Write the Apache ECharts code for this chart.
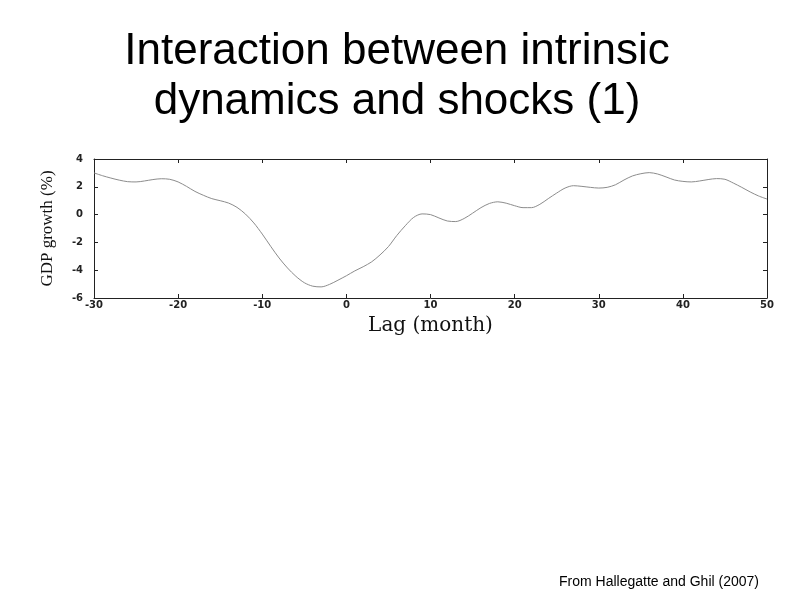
<!DOCTYPE html>
<html>
<head>
<meta charset="utf-8">
<script src="https://cdn.jsdelivr.net/npm/echarts@6/dist/echarts.min.js"></script>
<style>html,body{margin:0;padding:0;background:#fff;}#chart{width:794px;height:595px;}</style>
</head>
<body>
<div id="chart"></div>
<script>
var titleLines = ['Interaction between intrinsic', 'dynamics and shocks (1)'];
var sourceNote = 'From Hallegatte and Ghil (2007)';
var xName = 'Lag (month)';
var yName = 'GDP growth (%)';
var xTicks = [-30, -20, -10, 0, 10, 20, 30, 40, 50];
var yTicks = [-6, -4, -2, 0, 2, 4];
var lags = [];
for (var m = -30; m <= 50; m++) lags.push(m);
var gdp = [
  3.00, 2.80, 2.63, 2.48, 2.37, 2.35, 2.42, 2.52, 2.58, 2.54,
  2.35, 2.03, 1.67, 1.39, 1.15, 1.00, 0.83, 0.52, 0.04, -0.60,
  -1.40, -2.28, -3.12, -3.84, -4.44, -4.90, -5.15, -5.20, -5.02, -4.72,
  -4.40, -4.05, -3.75, -3.40, -2.90, -2.30, -1.50, -0.80, -0.20, 0.05,
  0.00, -0.24, -0.46, -0.50, -0.28, 0.10, 0.50, 0.80, 0.92, 0.82,
  0.64, 0.50, 0.50, 0.74, 1.15, 1.55, 1.91, 2.08, 2.03, 1.96,
  1.91, 1.96, 2.15, 2.49, 2.78, 2.94, 3.02, 2.92, 2.71, 2.49,
  2.39, 2.35, 2.42, 2.52, 2.59, 2.54, 2.27, 1.96, 1.63, 1.34,
  1.12
];

var chart = echarts.init(document.getElementById('chart'), null, {renderer: 'canvas'});
var frameColor = '#222';
var xMin = xTicks[0], xMax = xTicks[xTicks.length - 1];
var yMin = yTicks[0], yMax = yTicks[yTicks.length - 1];
var tickFont = {fontFamily: 'DejaVu Sans', fontWeight: 'bold', fontSize: 10, color: '#222'};

function xAxisDef(pos, showLabels) {
  return {
    type: 'value', position: pos, min: xMin, max: xMax, interval: 10,
    name: showLabels ? xName : '', nameLocation: 'middle', nameGap: 18,
    nameTextStyle: {fontFamily: 'DejaVu Serif', fontSize: 20, color: '#111'},
    axisLine: {show: true, onZero: false, lineStyle: {color: frameColor, width: 1}},
    axisTick: {show: true, inside: true, length: 4, lineStyle: {color: frameColor}},
    axisLabel: Object.assign({show: showLabels, margin: 2}, tickFont),
    splitLine: {show: false}
  };
}
function yAxisDef(pos, showLabels) {
  return {
    type: 'value', position: pos, min: yMin, max: yMax, interval: 2,
    name: showLabels ? yName : '', nameLocation: 'middle', nameGap: 38,
    nameTextStyle: {fontFamily: 'Liberation Serif', fontSize: 17, color: '#111'},
    axisLine: {show: true, onZero: false, lineStyle: {color: frameColor, width: 1}},
    axisTick: {show: true, inside: true, length: 4, lineStyle: {color: frameColor}},
    axisLabel: Object.assign({show: showLabels, margin: 11}, tickFont),
    splitLine: {show: false}
  };
}

chart.setOption({
  backgroundColor: '#fff',
  animation: false,
  grid: {left: 94, right: 27, top: 159, bottom: 297, containLabel: false},
  xAxis: [xAxisDef('bottom', true), xAxisDef('top', false)],
  yAxis: [yAxisDef('left', true), yAxisDef('right', false)],
  series: [{
    type: 'line',
    xAxisIndex: 0, yAxisIndex: 0,
    data: lags.map(function (l, i) { return [l, gdp[i]]; }),
    smooth: 0.3,
    showSymbol: false,
    lineStyle: {color: '#8c8c8c', width: 1}
  }],
  graphic: [
    {type: 'text', left: 'center', top: 30,
     style: {text: titleLines[0], font: '44px "Liberation Sans", Arial, sans-serif', fill: '#000'}},
    {type: 'text', left: 'center', top: 80,
     style: {text: titleLines[1], font: '44px "Liberation Sans", Arial, sans-serif', fill: '#000'}},
    {type: 'text', x: 559, y: 582,
     style: {text: sourceNote, font: '14px "Liberation Sans", Arial, sans-serif', fill: '#000', verticalAlign: 'middle'}}
  ]
});
</script>
</body>
</html>
